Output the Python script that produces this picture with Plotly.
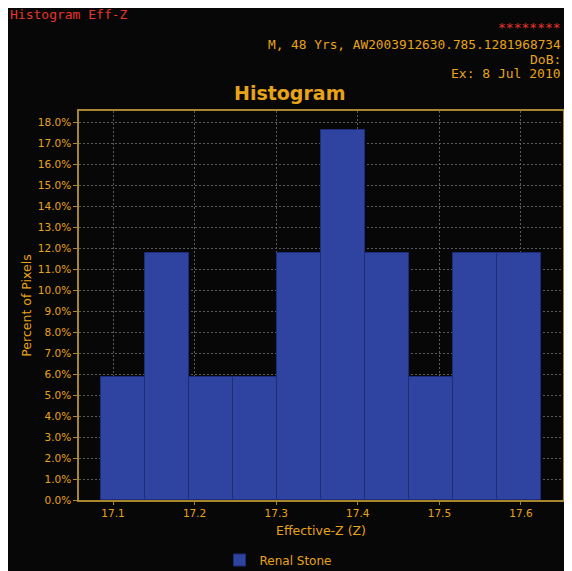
import plotly.graph_objects as go

# Data
bin_centers = [17.1123, 17.1662, 17.2201, 17.2740, 17.3279, 17.3818, 17.4357, 17.4896, 17.5435, 17.5974]
bin_width = 0.0539
percent = [5.88, 11.76, 5.88, 5.88, 11.76, 17.65, 11.76, 5.88, 11.76, 11.76]
series_name = "Renal Stone"
y_ticks = [i * 1.0 for i in range(19)]
x_ticks = [17.1, 17.2, 17.3, 17.4, 17.5, 17.6]

ORANGE = "#E8A317"
RED = "#E8352A"
BG = "#070707"
MONO = "DejaVu Sans Mono"
SANS = "DejaVu Sans"

OFF = 8  # page body margin
W, H = 564, 563
L, R, T, B = 71, 9, 103, 71
PW, PH = W - L - R, H - T - B


def px(x):
    # x in page pixels -> paper coordinate
    return (x - OFF - L) / PW


def py(y):
    return (H - B - (y - OFF)) / PH


fig = go.Figure()
fig.add_trace(go.Bar(
    x=bin_centers, y=percent, width=[bin_width] * len(percent),
    name=series_name, showlegend=True,
    marker=dict(color="#2F44A0", line=dict(color="#1F2C7A", width=1)),
))

fig.update_layout(
    width=W, height=H,
    margin=dict(l=L, r=R, t=T, b=B, autoexpand=False),
    paper_bgcolor=BG, plot_bgcolor=BG,
    font=dict(family=SANS, color=ORANGE, size=11),
    bargap=0,
    showlegend=True,
    legend=dict(orientation="h", x=px(278), xanchor="center", y=py(560), yanchor="middle",
                font=dict(size=12, color=ORANGE, family=SANS), bgcolor="rgba(0,0,0,0)",
                itemwidth=30),
    xaxis=dict(range=[17.0583, 17.6515], tickvals=x_ticks, ticktext=[f"{v:.1f}" for v in x_ticks],
               showgrid=True, gridcolor="#5a5a5a", griddash="2px,2px", gridwidth=1,
               showline=True, linecolor="#A8862E", linewidth=1.5, mirror=True,
               ticks="outside", ticklen=3, tickcolor="#A8862E",
               tickfont=dict(size=10.5, color=ORANGE),
               title=dict(text="Effective-Z (Z)", font=dict(size=12.5, color=ORANGE), standoff=8),
               zeroline=False),
    yaxis=dict(range=[0, 18.54], tickvals=y_ticks, ticktext=[f"{v:.1f}%" for v in y_ticks],
               showgrid=True, gridcolor="#5a5a5a", griddash="2px,2px", gridwidth=1,
               showline=True, linecolor="#A8862E", linewidth=1.5, mirror=True,
               ticks="outside", ticklen=4, tickcolor="#A8862E",
               tickfont=dict(size=10.5, color=ORANGE),
               title=dict(text="Percent of Pixels", font=dict(size=12.5, color=ORANGE), standoff=3),
               zeroline=False),
)

RIGHT = 563  # last visible page pixel column
annos = [
    dict(text="Histogram Eff-Z", x=px(8), y=py(14), xanchor="left", yanchor="middle",
         font=dict(family=MONO, size=13, color=RED)),
    dict(text="********", x=px(RIGHT), y=py(27), xanchor="right", yanchor="middle",
         font=dict(family=MONO, size=13, color=RED), height=13),
    dict(text="M, 48 Yrs, AW2003912630.785.1281968734", x=px(RIGHT), y=py(44), xanchor="right", yanchor="middle",
         font=dict(family=MONO, size=12.8, color=ORANGE), height=14),
    dict(text="DoB:", x=px(RIGHT), y=py(59), xanchor="right", yanchor="middle",
         font=dict(family=MONO, size=13, color=ORANGE), height=14),
    dict(text="Ex: 8 Jul 2010", x=px(RIGHT), y=py(73), xanchor="right", yanchor="middle",
         font=dict(family=MONO, size=13, color=ORANGE), height=14),
    dict(text="<b>Histogram</b>", x=px(289), y=py(93), xanchor="center", yanchor="middle",
         font=dict(family=SANS, size=19, color=ORANGE)),
]
for a in annos:
    fig.add_annotation(xref="paper", yref="paper", showarrow=False, **a)

fig.write_html("out.html")
